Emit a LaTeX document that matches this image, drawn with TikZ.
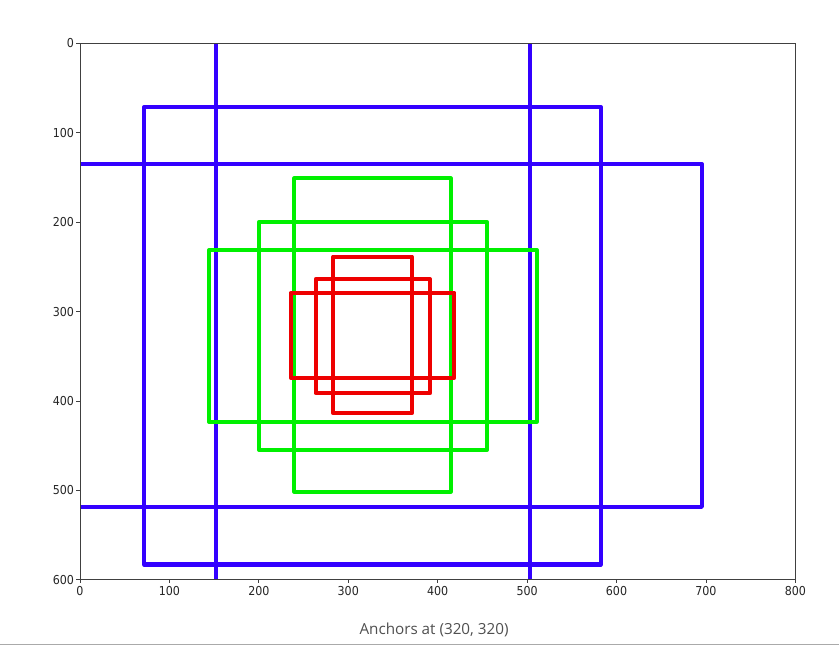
\documentclass[tikz,border=0pt]{standalone}
\usepackage{fontspec}
\setmainfont{DejaVu Sans}
\newfontfamily\captionfont{Open Sans}
\definecolor{AnchorBlue}{HTML}{3300FF}
\definecolor{AnchorGreen}{HTML}{00F000}
\definecolor{AnchorRed}{HTML}{EE0000}
\definecolor{AxisGray}{HTML}{404040}
\definecolor{TitleGray}{HTML}{505050}
\definecolor{EdgeGray}{HTML}{AAAAAA}
\usetikzlibrary{positioning}
\tikzset{
  frame/.style={draw=AxisGray, line width=0.7pt},
  tickmark/.style={draw=AxisGray, line width=0.7pt},
  ticklabel/.style={font=\fontsize{10.5}{12}\selectfont, text=black!85, inner sep=2pt, xscale=0.9},
  bigbox/.style={draw=AnchorBlue, line width=3.6pt, line join=round},
  midbox/.style={draw=AnchorGreen, line width=3.5pt, line join=round},
  smallbox/.style={draw=AnchorRed, line width=3.4pt, line join=round},
  caption/.style={font=\captionfont\fontsize{13}{15}\selectfont, text=TitleGray}
}

\begin{document}
\begin{tikzpicture}[x=0.03cm, y=-0.03cm]
  \useasboundingbox (0,0) rectangle (839,647);
  \fill[white] (0,0) rectangle (839,647);

  % axes in data units
  \begin{scope}[shift={(80,43.3)}, x=0.02682cm, y=-0.02682cm]
    \begin{scope}
      \clip (0,0) rectangle (800,600);
      % scale 512
      \draw[bigbox] (71.6,71.6) rectangle (582.5,582.8);
      \draw[bigbox] (-41,135.3) rectangle (695.4,518.3);
      \draw[bigbox] (151.8,-30) rectangle (503.4,630);
      % scale 256
      \draw[midbox] (200.6,199.6) rectangle (455.0,454.9);
      \draw[midbox] (144.3,231.2) rectangle (510.8,423.3);
      \draw[midbox] (239.7,151.1) rectangle (414.7,501.3);
      % scale 128
      \draw[smallbox] (263.6,263.6) rectangle (391.5,391.2);
      \draw[smallbox] (235.7,279.0) rectangle (418.7,374.0);
      \draw[smallbox] (283.3,238.5) rectangle (371.0,413.9);
    \end{scope}

    \draw[frame] (0,0) rectangle (800,600);
    \foreach \v in {0,100,...,800}
      \draw[tickmark] (\v,600) -- ++(0,4) node[ticklabel, below] (xt\v) {\v};
    \foreach \v in {0,100,...,600}
      \draw[tickmark] (0,\v) -- ++(-4,0) node[ticklabel, left] (yt\v) {\v};
  \end{scope}

  \node[caption] (title) at (434,629.5) {Anchors at (320, 320)};
  \draw[EdgeGray, line width=1.2pt] (0,644.5) -- (839,644.5);
\end{tikzpicture}
\end{document}
